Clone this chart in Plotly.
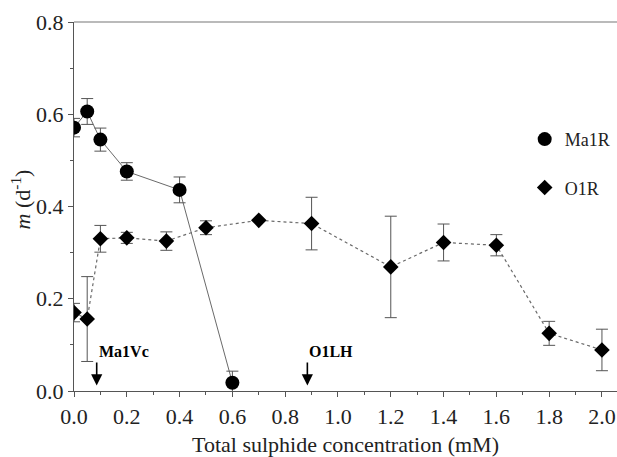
import plotly.graph_objects as go

# Ma1R
ma_x = [0.0, 0.05, 0.1, 0.2, 0.4, 0.6]
ma_y = [0.571, 0.606, 0.545, 0.476, 0.436, 0.018]
ma_err = [0.02, 0.028, 0.025, 0.019, 0.028, 0.025]

# O1R
o_x = [0.0, 0.05, 0.1, 0.2, 0.35, 0.5, 0.7, 0.9, 1.2, 1.4, 1.6, 1.8, 2.0]
o_y = [0.170, 0.156, 0.330, 0.332, 0.325, 0.354, 0.370, 0.363, 0.269, 0.322, 0.316, 0.125, 0.089]
o_err = [0.02, 0.092, 0.029, 0.012, 0.02, 0.015, 0.0, 0.057, 0.11, 0.04, 0.023, 0.026, 0.045]

# arrow annotations
arrow_labels = ["Ma1Vc", "O1LH"]
arrow_x = [0.086, 0.884]

x_ticks = [0.0, 0.2, 0.4, 0.6, 0.8, 1.0, 1.2, 1.4, 1.6, 1.8, 2.0]
y_ticks = [0.0, 0.2, 0.4, 0.6, 0.8]

FONT = "Liberation Serif, Times New Roman, serif"
LINE = "#6a6a6a"
ERR = "#555555"

fig = go.Figure()

fig.add_trace(go.Scatter(x=ma_x, y=ma_y, mode="lines",
                         line=dict(color=LINE, width=1), showlegend=False, hoverinfo="skip"))
fig.add_trace(go.Scatter(x=o_x, y=o_y, mode="lines",
                         line=dict(color=LINE, width=1.2, dash="dot"), showlegend=False, hoverinfo="skip"))

fig.add_trace(go.Scatter(x=ma_x, y=ma_y, mode="markers", name="Ma1R", legendgroup="a",
                         marker=dict(symbol="circle", size=14, color="black"),
                         error_y=dict(type="data", array=ma_err, color=ERR, thickness=1, width=6)))
fig.add_trace(go.Scatter(x=o_x, y=o_y, mode="markers", name="O1R", legendgroup="b",
                         marker=dict(symbol="diamond", size=12, color="black"),
                         error_y=dict(type="data", array=o_err, color=ERR, thickness=1, width=6)))

for lab, ax_ in zip(arrow_labels, arrow_x):
    fig.add_annotation(x=ax_, y=0.012, ax=ax_, ay=0.062, xref="x", yref="y",
                       axref="x", ayref="y", showarrow=True, arrowhead=2,
                       arrowsize=1.4, arrowwidth=1.6, arrowcolor="black",
                       text="<b>%s</b>" % lab, xanchor="left", yanchor="bottom",
                       font=dict(family=FONT, size=16, color="black"))

fig.update_layout(
    width=617, height=457,
    margin=dict(l=74, r=0, t=22, b=66),
    paper_bgcolor="white", plot_bgcolor="white",
    font=dict(family=FONT, color="#222222"),
    legend=dict(x=0.83, y=0.732, xanchor="left", yanchor="top",
                font=dict(family=FONT, size=18, color="#222222"),
                tracegroupgap=22, bgcolor="rgba(0,0,0,0)"),
)

fig.add_annotation(xref="paper", yref="paper", x=-0.097, y=0.52, textangle=-90,
                   text="<i>m</i> (d<sup>-1</sup>)", showarrow=False,
                   xanchor="center", yanchor="middle",
                   font=dict(family=FONT, size=22, color="#222"))

fig.update_xaxes(range=[0, 2.057], tickvals=x_ticks, ticktext=["%.1f" % v for v in x_ticks],
                 ticks="outside", ticklen=5, tickcolor="#555", showline=True, linecolor="#555",
                 linewidth=1.2, showgrid=False, zeroline=False, mirror=False, automargin=False,
                 tickfont=dict(family=FONT, size=22, color="#222"),
                 minor=dict(dtick=0.1, tick0=0, ticks="outside", ticklen=3, tickcolor="#555"),
                 title=dict(text="Total sulphide concentration (mM)",
                            font=dict(family=FONT, size=22, color="#222"), standoff=16))
fig.update_yaxes(range=[0, 0.8], tickvals=y_ticks, ticktext=["%.1f" % v for v in y_ticks],
                 ticks="outside", ticklen=5, tickcolor="#555", showline=True, linecolor="#555",
                 linewidth=1.2, showgrid=False, zeroline=False, automargin=False,
                 tickfont=dict(family=FONT, size=22, color="#222"),
                 minor=dict(dtick=0.1, tick0=0, ticks="outside", ticklen=3, tickcolor="#555"))

fig.add_shape(type="line", xref="paper", yref="paper", x0=0, x1=1, y0=1, y1=1,
              line=dict(color="#777", width=1.2))

fig.write_html("out.html")
